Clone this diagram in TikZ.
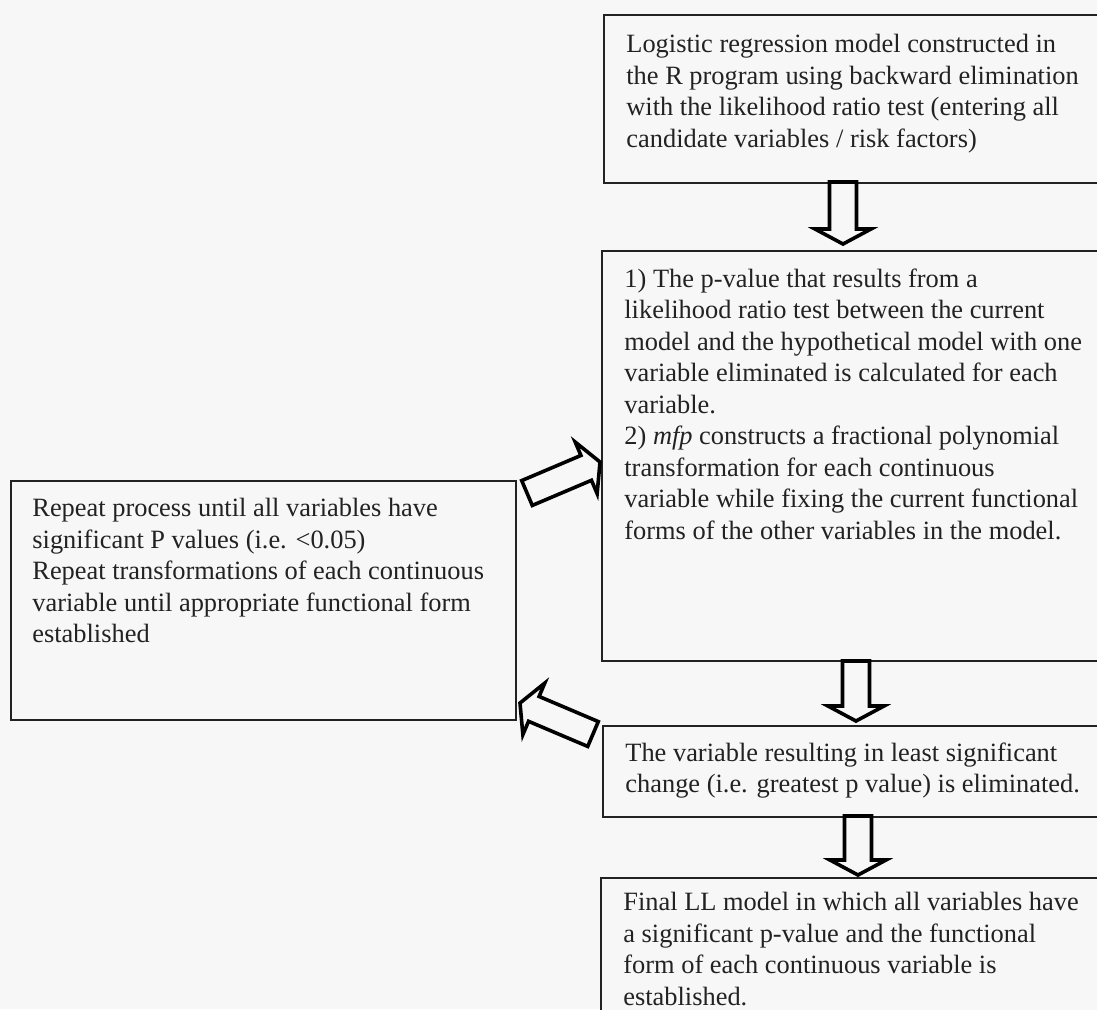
\documentclass[tikz,border=0pt]{standalone}
\usepackage{fontspec}
\setmainfont{Liberation Serif}
\usetikzlibrary{calc}
\definecolor{bgcol}{HTML}{F7F7F7}
\definecolor{inkcol}{HTML}{222222}
\tikzset{
  box/.style={draw=inkcol, line width=1pt, anchor=north west, inner sep=0pt, fill=bgcol},
  txt/.style={anchor=north west, inner sep=0pt, align=left, text=inkcol,
              font=\fontsize{13.2}{15.75}\selectfont},
  barrow/.style={draw=black, line width=1.8pt, line join=miter, fill=bgcol}
}
% hollow block arrow from tail coordinate #1 to tip coordinate #2
\newcommand{\hollowarr}[2]{%
  \coordinate (#1-#2-c) at ($(#2)!7.5pt!(#1)$);
  \draw[barrow] ($(#1)!6.75pt!90:(#2)$) -- ($(#1-#2-c)!6.75pt!90:(#2)$)
     -- ($(#1-#2-c)!14pt!90:(#2)$) -- (#2) -- ($(#1-#2-c)!14pt!-90:(#2)$)
     -- ($(#1-#2-c)!6.75pt!-90:(#2)$) -- ($(#1)!6.75pt!-90:(#2)$) -- cycle;
}
\begin{document}
\begin{tikzpicture}[x=0.5pt,y=-0.5pt]
\fill[bgcol] (0,0) rectangle (1097,1009);
\useasboundingbox (0,0) rectangle (1097,1009);
\clip (0,0) rectangle (1097,1009);

% boxes
\node[box, minimum width=251pt, minimum height=84pt] (b1) at (603,14) {};
\node[box, minimum width=252pt, minimum height=205pt] (b2) at (601,250) {};
\node[box, minimum width=252.5pt, minimum height=119.5pt] (b3) at (10,480) {};
\node[box, minimum width=251.5pt, minimum height=45.5pt] (b4) at (602,725) {};
\node[box, minimum width=252.5pt, minimum height=75pt] (b5) at (600,877) {};

% texts
\node[txt] (t1) at ([shift={(23,20)}]b1.north west)
 {Logistic regression model constructed in\\
  the R program using backward elimination\\
  with the likelihood ratio test (entering all\\
  candidate variables / risk factors)};
\node[txt] (t2) at ([shift={(23,18)}]b2.north west)
 {1) The p-value that results from a\\
  likelihood ratio test between the current\\
  model and the hypothetical model with one\\
  variable eliminated is calculated for each\\
  variable.\\
  2) \textit{mfp} constructs a fractional polynomial\\
  transformation for each continuous\\
  variable while fixing the current functional\\
  forms of the other variables in the model.};
\node[txt] (t3) at ([shift={(22,18)}]b3.north west)
 {Repeat process until all variables have\\
  significant P values (i.e. <0.05)\\
  Repeat transformations of each continuous\\
  variable until appropriate functional form\\
  established};
\node[txt] (t4) at ([shift={(23,17)}]b4.north west)
 {The variable resulting in least significant\\
  change (i.e. greatest p value) is eliminated.};
\node[txt] (t5) at ([shift={(23,15)}]b5.north west)
 {Final LL model in which all variables have\\
  a significant p-value and the functional\\
  form of each continuous variable is\\
  established.};

% arrow end points
\coordinate (a1s) at (843,182);
\coordinate (a1e) at (843,244);
\coordinate (a2s) at (856,661);
\coordinate (a2e) at (856,721);
\coordinate (a3s) at (858,816);
\coordinate (a3e) at (858,875);
\coordinate (a4s) at (593,734);
\coordinate (a4e) at (520,703);
\coordinate (a5s) at (527,493);
\coordinate (a5e) at (600,462);

\hollowarr{a1s}{a1e}
\hollowarr{a2s}{a2e}
\hollowarr{a3s}{a3e}
\hollowarr{a4s}{a4e}
\hollowarr{a5s}{a5e}
\end{tikzpicture}
\end{document}
